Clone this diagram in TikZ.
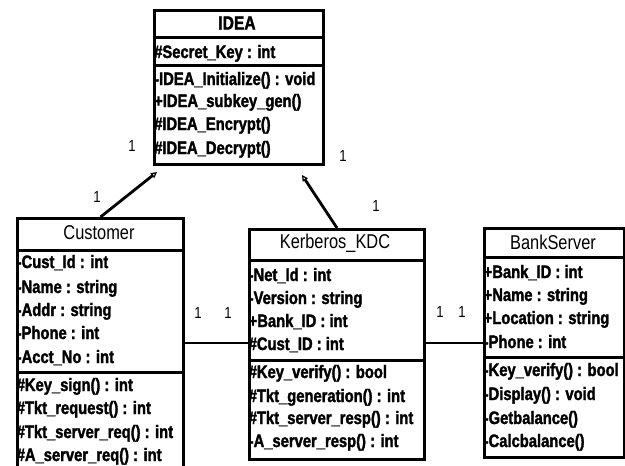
\documentclass[tikz,border=0pt]{standalone}
\usepackage{fontspec}
\setmainfont{Liberation Sans}[FakeStretch=0.82, BoldFeatures={FakeBold=1.8}]
\usetikzlibrary{arrows.meta,calc}
\begin{document}
\begin{tikzpicture}[x=1pt,y=-1pt,
  box/.style={draw, line width=3pt, inner sep=0pt, anchor=north west},
  sep/.style={line width=3pt},
  txt/.style={anchor=base west, inner sep=0pt, font=\bfseries\fontsize{18}{20}\selectfont},
  ttl/.style={inner sep=0pt, font=\fontsize{20}{22}\selectfont},
  mult/.style={inner sep=0pt, font=\fontsize{16}{18}\selectfont},
  conn/.style={line width=2.8pt},
  gen/.style={conn, -{Triangle[open,length=6pt,width=6pt,line width=1.2pt]}}]
\useasboundingbox (0,0) rectangle (625,466);
\clip (0,0) rectangle (625,466);
% IDEA
\node[box, minimum width=169pt, minimum height=154pt] (idea) at (153,9) {};
\draw[sep] (idea.west |- 0,37) -- (idea.east |- 0,37);
\draw[sep] (idea.west |- 0,65) -- (idea.east |- 0,65);
\node[ttl, font=\bfseries\fontsize{19}{21}\selectfont] (ideat) at (237,23) {IDEA};
\node[txt] (i1) at (154,58) {\#Secret\_Key : int};
\node[txt] (i2) at (154,85) {-IDEA\_Initialize() : void};
\node[txt] (i3) at (154,107) {+IDEA\_subkey\_gen()};
\node[txt] (i4) at (154,130) {\#IDEA\_Encrypt()};
\node[txt] (i5) at (154,154) {\#IDEA\_Decrypt()};
% Customer
\node[box, minimum width=166pt, minimum height=275pt] (cust) at (16,217) {};
\draw[sep] (cust.west |- 0,250) -- (cust.east |- 0,250);
\draw[sep] (cust.west |- 0,372) -- (cust.east |- 0,372);
\node[ttl] (custt) at (99,233) {Customer};
\node[txt] (c1) at (16.5,268) {-Cust\_Id : int};
\node[txt] (c2) at (16.5,293) {-Name : string};
\node[txt] (c3) at (16.5,316) {-Addr : string};
\node[txt] (c4) at (16.5,339) {-Phone : int};
\node[txt] (c5) at (16.5,363) {-Acct\_No : int};
\node[txt] (c6) at (16.5,391) {\#Key\_sign() : int};
\node[txt] (c7) at (16.5,414) {\#Tkt\_request() : int};
\node[txt] (c8) at (16.5,438) {\#Tkt\_server\_req() : int};
\node[txt] (c9) at (16.5,461) {\#A\_server\_req() : int};
% Kerberos
\node[box, minimum width=175pt, minimum height=230pt] (kdc) at (248,228) {};
\draw[sep] (kdc.west |- 0,260) -- (kdc.east |- 0,260);
\draw[sep] (kdc.west |- 0,360) -- (kdc.east |- 0,360);
\node[ttl] (kdct) at (335,243) {Kerberos\_KDC};
\node[txt] (k1) at (248.5,281) {-Net\_Id : int};
\node[txt] (k2) at (248.5,304) {-Version : string};
\node[txt] (k3) at (248.5,327) {+Bank\_ID : int};
\node[txt] (k4) at (248.5,350) {\#Cust\_ID : int};
\node[txt] (k5) at (248.5,378) {\#Key\_verify() : bool};
\node[txt] (k6) at (248.5,402) {\#Tkt\_generation() : int};
\node[txt] (k7) at (248.5,424) {\#Tkt\_server\_resp() : int};
\node[txt] (k8) at (248.5,447) {-A\_server\_resp() : int};
% BankServer
\node[box, minimum width=140pt, minimum height=229pt] (bank) at (483,227) {};
\draw[sep] (bank.west |- 0,257) -- (bank.east |- 0,257);
\draw[sep] (bank.west |- 0,357) -- (bank.east |- 0,357);
\node[ttl] (bankt) at (553,242) {BankServer};
\node[txt] (b1) at (483.5,278) {+Bank\_ID : int};
\node[txt] (b2) at (483.5,301) {+Name : string};
\node[txt] (b3) at (483.5,324) {+Location : string};
\node[txt] (b4) at (483.5,348) {-Phone : int};
\node[txt] (b5) at (483.5,376) {-Key\_verify() : bool};
\node[txt] (b6) at (483.5,400) {-Display() : void};
\node[txt] (b7) at (483.5,424) {-Getbalance()};
\node[txt] (b8) at (483.5,447) {-Calcbalance()};
% connectors
\coordinate (ia) at ($(idea.south west)+(4,6)$);
\coordinate (ib) at ($(idea.south west)+(149,9)$);
\draw[gen] (cust.north) -- (ia);
\draw[gen] (kdc.north) -- (ib);
\coordinate (h1) at (0,343);
\draw[conn] (cust.east |- h1) -- (kdc.west |- h1);
\draw[conn] (kdc.east |- h1) -- (bank.west |- h1);
% multiplicities
\node[mult] (m1) at (132,146) {1};
\node[mult] (m2) at (97,197) {1};
\node[mult] (m3) at (343,156) {1};
\node[mult] (m4) at (376,206) {1};
\node[mult] (m5) at (198,313) {1};
\node[mult] (m6) at (228,313) {1};
\node[mult] (m7) at (440,312) {1};
\node[mult] (m8) at (462,312) {1};
\end{tikzpicture}
\end{document}
